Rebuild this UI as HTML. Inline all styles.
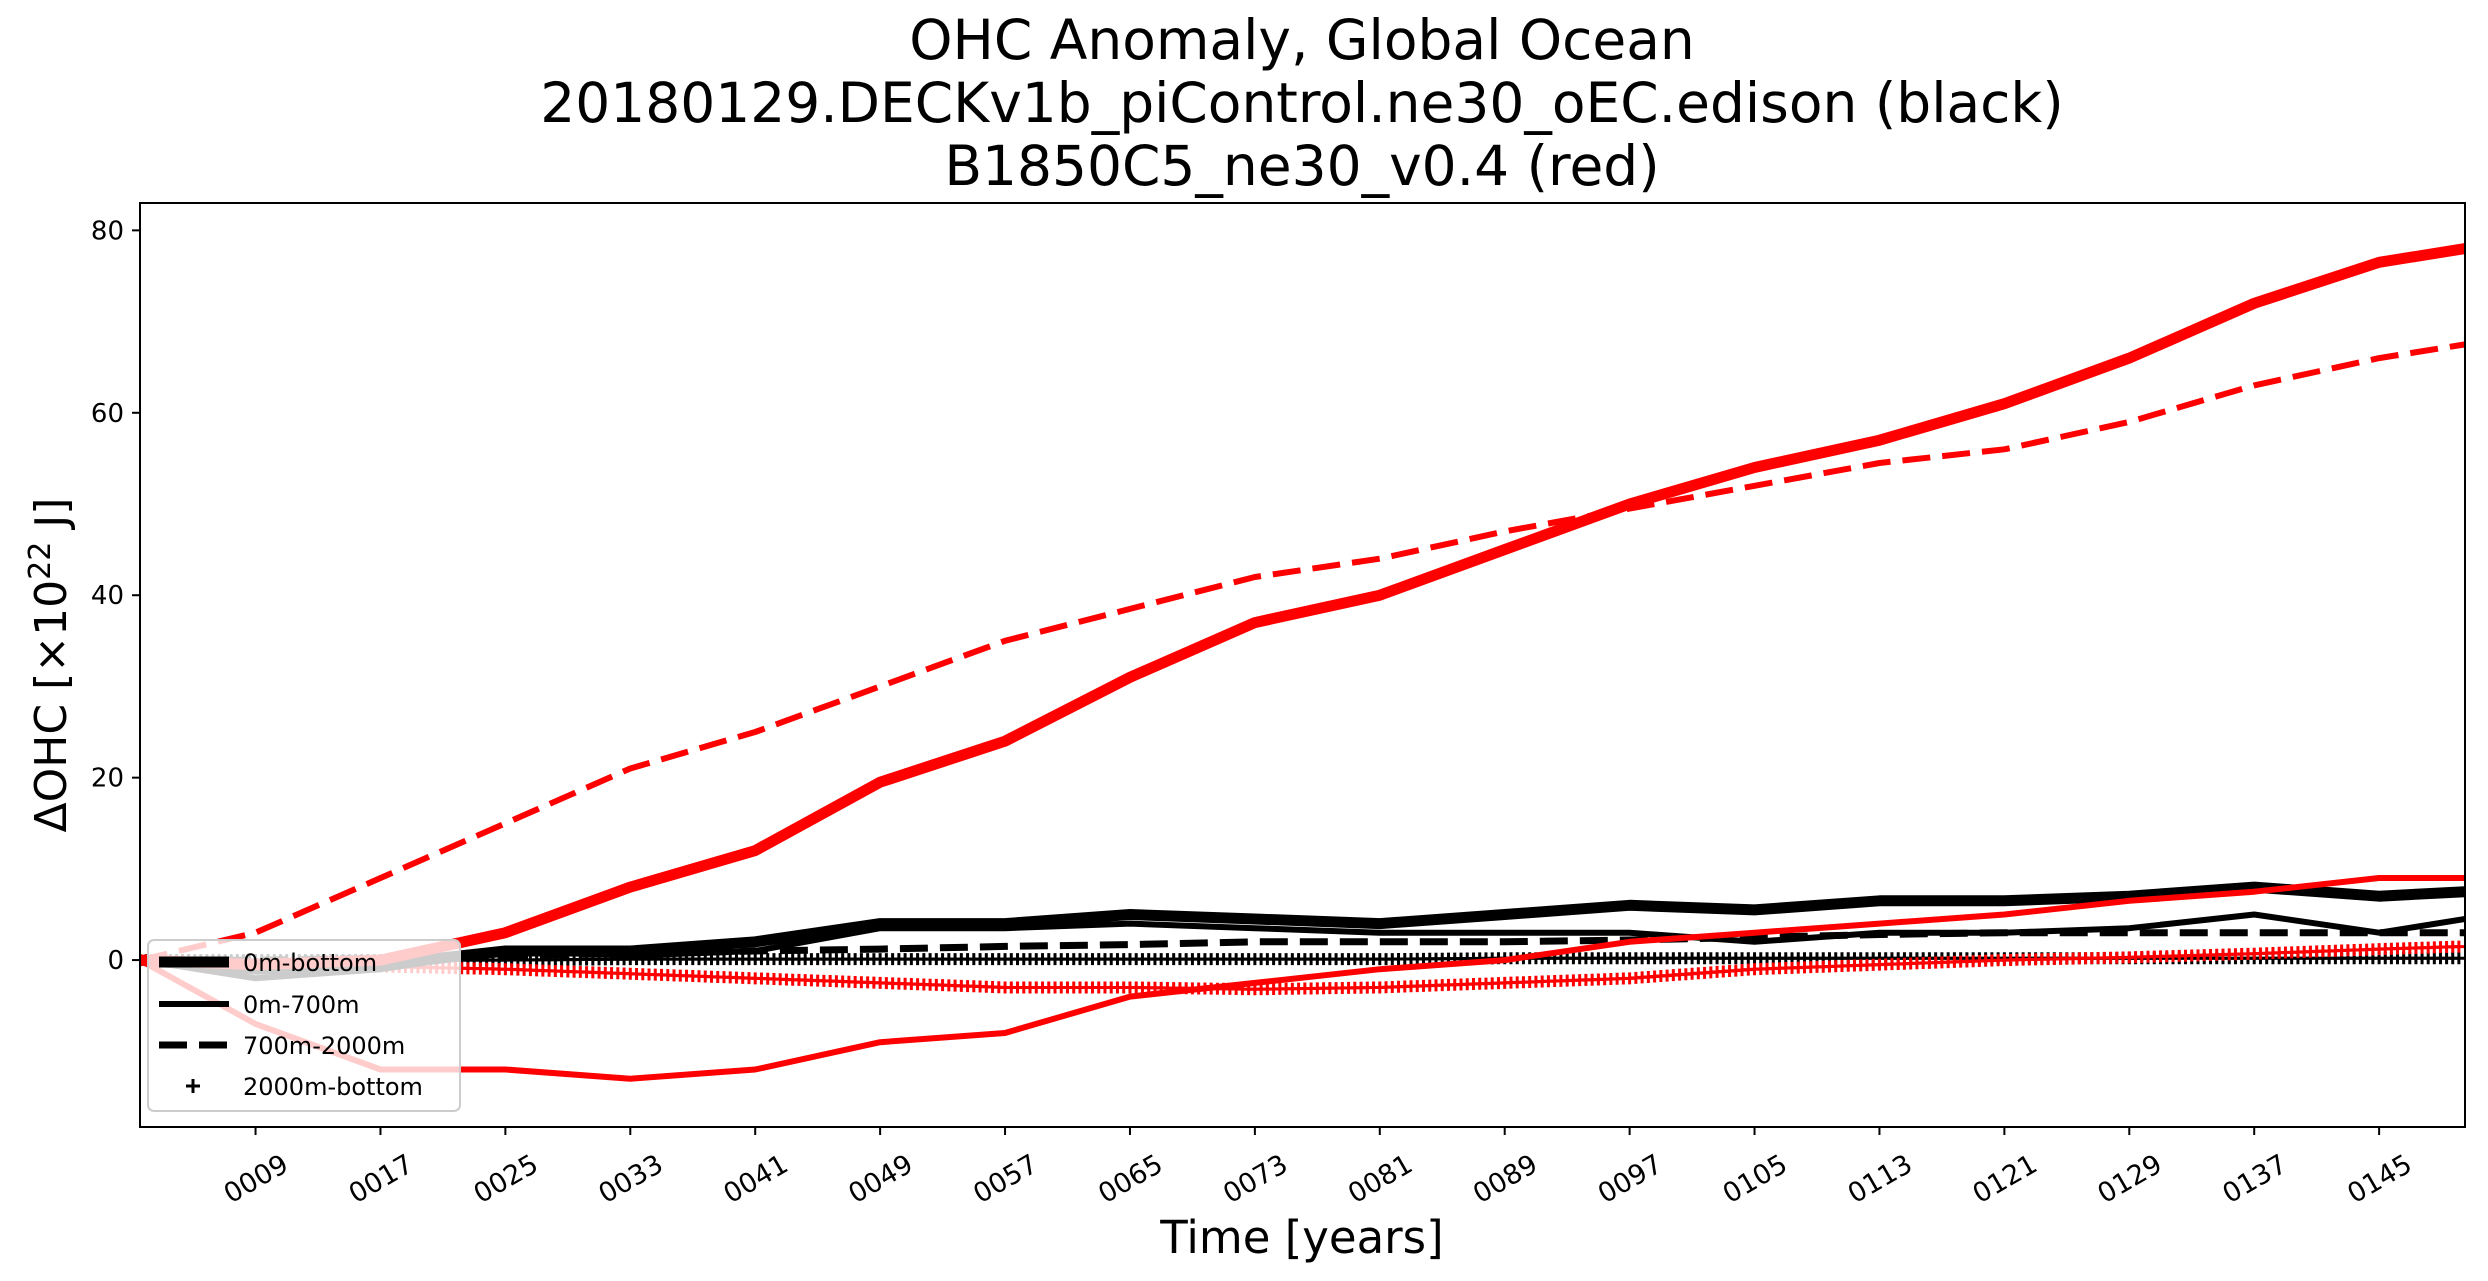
<!DOCTYPE html>
<html><head><meta charset="utf-8"><style>
html,body{margin:0;padding:0;background:#fff;}
svg{display:block;font-family:"DejaVu Sans","Liberation Sans",sans-serif;}
</style></head><body>
<svg id="chart" width="2488" height="1281" viewBox="0 0 2488 1281" xmlns="http://www.w3.org/2000/svg">
<rect width="2488" height="1281" fill="#fff"/>
<g text-anchor="middle" font-size="55" fill="#000">
<text x="1302" y="59">OHC Anomaly, Global Ocean</text>
<text x="1302" y="122">20180129.DECKv1b_piControl.ne30_oEC.edison (black)</text>
<text x="1302" y="185">B1850C5_ne30_v0.4 (red)</text>
</g>
<g id="plot"></g>
<g id="axes"></g>
<text x="1302" y="1253" text-anchor="middle" font-size="45">Time [years]</text>
<text transform="translate(66,665) rotate(-90)" text-anchor="middle" font-size="44">ΔOHC [×10<tspan dy="-16" font-size="30">22</tspan><tspan dy="16"> J]</tspan></text>
<g id="legend"></g>
</svg>
<script>
const years = [1.6,9,17,25,33,41,49,57,65,73,81,89,97,105,113,121,129,137,145,150.5];
const redBottom = [0,-0.5,0,3,8,12,19.5,24,31,37,40,45,50,54,57,61,66,72,76.5,78];
const redDeep = [0,3,9,15,21,25,30,35,38.5,42,44,47,49.5,52,54.5,56,59,63,66,67.5];
const red700 = [0,-7,-12,-12,-13,-12,-9,-8,-4,-2.5,-1,0,2,3,4,5,6.5,7.5,9,9];
const redAbyss = [0,-0.5,-0.7,-1,-1.5,-2,-2.5,-3,-3,-3.2,-3,-2.5,-2,-1,-0.5,0,0.3,0.7,1.2,1.5];
const blkBottom = [0,-1,-0.5,1,1,2,4,4,5,4.5,4,5,6,5.5,6.5,6.5,7,8,7,7.5];
const blk700 = [0,-2,-1,1,0.5,1,3.5,3.5,4,3.5,3,3,3,2,3,3,3.5,5,3,4.5];
const blkDeep = [0,0,0.2,0.5,0.7,1,1.2,1.5,1.7,2,2,2,2.2,2.5,2.8,3,3,3,3,3];
const blkAbyss = [0,0,0,0,0.1,0.1,0.1,0.1,0.1,0.1,0.1,0.2,0.2,0.2,0.2,0.2,0.2,0.2,0.2,0.2];
const yTicks = [0,20,40,60,80];
const xTicks = [9,17,25,33,41,49,57,65,73,81,89,97,105,113,121,129,137,145];
const xTickLabels = ["0009","0017","0025","0033","0041","0049","0057","0065","0073","0081","0089","0097","0105","0113","0121","0129","0137","0145"];
const legendLabels = ["0m-bottom","0m-700m","700m-2000m","2000m-bottom"];

const L=140,R=2465,T=203,B=1127, X0=1.6,X1=150.5, Y0=-18.3,Y1=83;
const sx=v=>L+(v-X0)/(X1-X0)*(R-L);
const sy=v=>B-(v-Y0)/(Y1-Y0)*(B-T);
const NS="http://www.w3.org/2000/svg";
const plot=document.getElementById('plot'), axes=document.getElementById('axes'), leg=document.getElementById('legend');
function mk(tag,attrs,parent){const e=document.createElementNS(NS,tag);for(const k in attrs)e.setAttribute(k,attrs[k]);parent.appendChild(e);return e;}
const clip=mk('clipPath',{id:'pc'},mk('defs',{},plot));
mk('rect',{x:L,y:T,width:R-L,height:B-T},clip);
const g=mk('g',{'clip-path':'url(#pc)'},plot);
function line(vals,color,w,dash,name){
  const d=vals.map((v,i)=>(i?'L':'M')+sx(years[i]).toFixed(1)+','+sy(v).toFixed(1)).join('');
  const p=mk('path',{d:d,fill:'none',stroke:color,'stroke-width':w,'stroke-linejoin':'round','stroke-linecap':dash?'butt':'round'},g);
  if(dash)p.setAttribute('stroke-dasharray',dash);
  
  
}
function plus(vals,color,name){
  const grp=mk('g',{stroke:color,'stroke-width':3},g);
  
  
  for(let i=0;i<vals.length-1;i++){
    const n=Math.max(1,Math.round((years[i+1]-years[i])*2.5));
    for(let k=0;k<n;k++){const t=k/n;const yr=years[i]+t*(years[i+1]-years[i]);const v=vals[i]+t*(vals[i+1]-vals[i]);
      const x=sx(yr),y=sy(v);
      mk('path',{d:`M${x-6},${y}H${x+6}M${x},${y-6}V${y+6}`},grp);}
  }
}
plus(blkAbyss,'#000','black-2000m-bottom-series');
plus(redAbyss,'#f00','red-2000m-bottom-series');
line(blkDeep,'#000',7,'28,12','black-700m-2000m-series');
line(blk700,'#000',6,null,'black-0m-700m-series');
line(blkBottom,'#000',11,null,'black-0m-bottom-series');
line(red700,'#f00',6,null,'red-0m-700m-series');
line(redDeep,'#f00',6,'28,12','red-700m-2000m-series');
line(redBottom,'#f00',11,null,'red-0m-bottom-series');
const frame=mk('rect',{x:L,y:T,width:R-L,height:B-T,fill:'none',stroke:'#000','stroke-width':2},axes);


yTicks.forEach(v=>{const y=sy(v);
  mk('line',{x1:L-8,x2:L,y1:y,y2:y,stroke:'#000','stroke-width':2},axes);
  const t=mk('text',{x:L-16,y:y+9,'text-anchor':'end','font-size':26},axes);t.textContent=v;
  
  
});
xTicks.forEach((v,i)=>{const x=sx(v);
  mk('line',{x1:x,x2:x,y1:B,y2:B+8,stroke:'#000','stroke-width':2},axes);
  const t=mk('text',{transform:`translate(${x},${B+51}) rotate(-30)`,y:10,'text-anchor':'middle','font-size':27},axes);t.textContent=xTickLabels[i];
  
  
});
const lb=mk('rect',{x:148,y:940,width:312,height:171,rx:6,fill:'#fff','fill-opacity':0.8,stroke:'#ccc','stroke-width':2},leg);


const lw=[11,6,7,0],ld=[null,null,'28,12',null],ly=[962,1004,1045,1086];
legendLabels.forEach((s,i)=>{
  const e=mk('g',{},leg);
  
  
  if(i<3){const l=mk('line',{x1:159,x2:229,y1:ly[i],y2:ly[i],stroke:'#000','stroke-width':lw[i]},e);if(ld[i])l.setAttribute('stroke-dasharray',ld[i]);}
  else mk('path',{d:`M186,${ly[i]}h14M193,${ly[i]-7}v14`,stroke:'#000','stroke-width':3},e);
  const t=mk('text',{x:243,y:ly[i]+9,'font-size':24},e);t.textContent=s;
});
</script>
</body></html>
